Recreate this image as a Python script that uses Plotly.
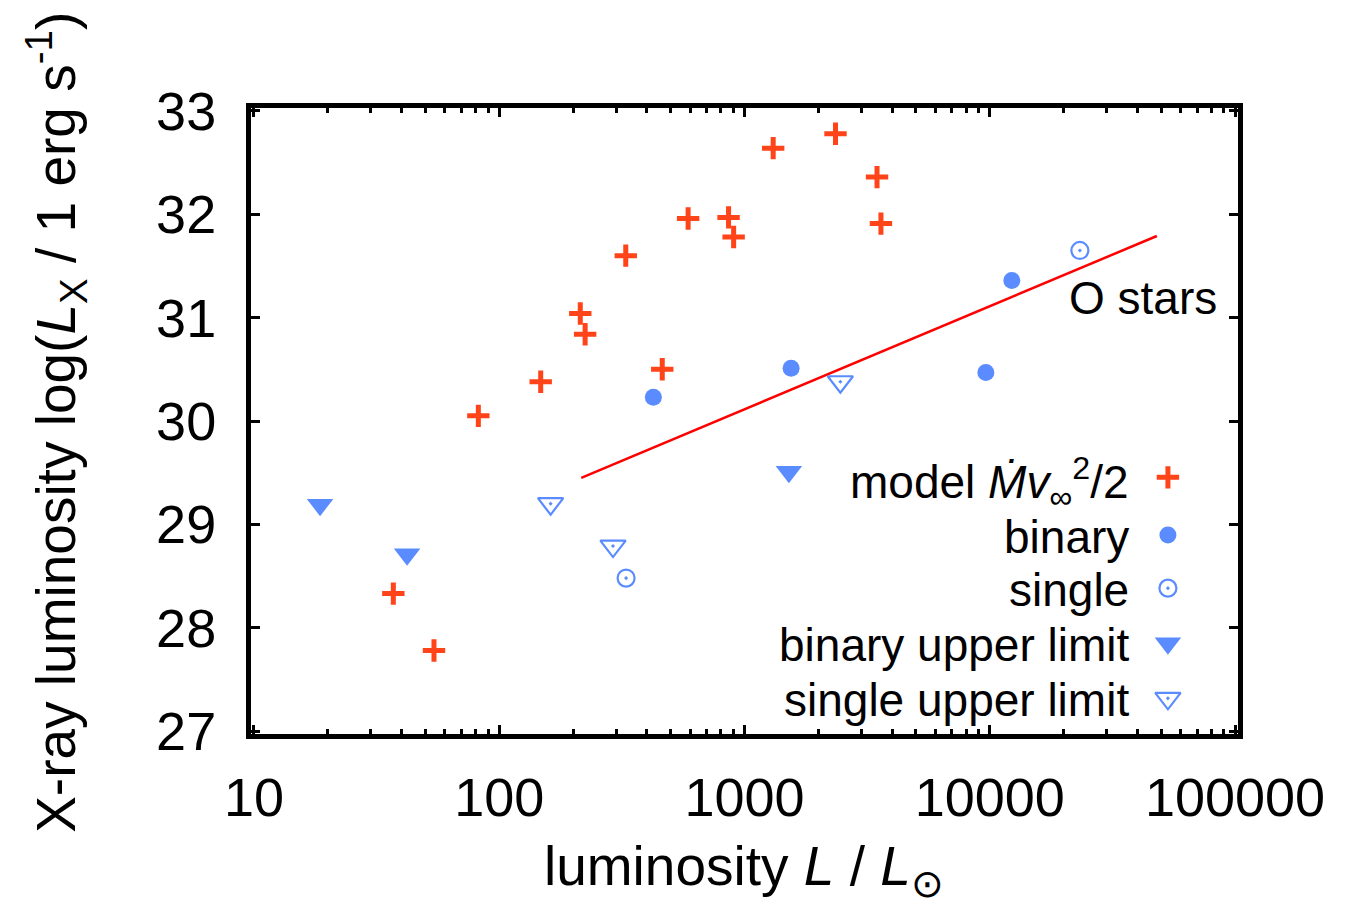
import plotly.graph_objects as go

# Mass-loss kinetic power from the wind model: L (L_sun) and log L_X
model_L = [37.0, 54.2, 82.2, 147.6, 214, 224, 328, 462, 589, 861, 903, 1309, 2350, 3470, 3600]
model_logLx = [28.33, 27.78, 30.05, 30.38, 31.04, 30.84, 31.60, 30.50, 31.96, 31.97, 31.78, 32.64, 32.78, 32.36, 31.91]

# Detected X-ray sources
binary_L = [425, 1549, 9640, 12300]
binary_logLx = [30.23, 30.51, 30.47, 31.36]
single_L = [329, 23300]
single_logLx = [28.48, 31.65]

# Upper limits
binary_ul_L = [18.6, 42.1, 1517]
binary_ul_logLx = [29.19, 28.71, 29.51]
single_ul_L = [162, 291, 2460]
single_ul_logLx = [29.20, 28.79, 30.38]

# Empirical relation for O stars
ostar_L = [216, 48000]
ostar_logLx = [29.45, 31.79]

x_ticks = [10, 100, 1000, 10000, 100000]
x_ticktext = ["10", "100", "1000", "10000", "100000"]
y_ticks = [27, 28, 29, 30, 31, 32, 33]

RED = "#ff4419"
BLUE = "#5a8cff"
FONT = "Liberation Sans, Arial, sans-serif"
FS_TICK = 54
FS_TITLE = 55
FS_KEY = 46

fig = go.Figure()

fig.add_trace(go.Scatter(x=ostar_L, y=ostar_logLx, mode="lines",
                         line=dict(color="#ff0000", width=2.5), showlegend=False))

fig.add_trace(go.Scatter(x=model_L, y=model_logLx, mode="markers",
                         marker=dict(symbol="cross-thin", size=16,
                                     line=dict(color=RED, width=5)),
                         showlegend=False))
fig.add_trace(go.Scatter(x=binary_L, y=binary_logLx, mode="markers",
                         marker=dict(symbol="circle", size=17, color=BLUE),
                         showlegend=False))
fig.add_trace(go.Scatter(x=single_L, y=single_logLx, mode="markers",
                         marker=dict(symbol="circle-open-dot", size=17,
                                     color=BLUE, line=dict(color=BLUE, width=2.2)),
                         showlegend=False))
fig.add_trace(go.Scatter(x=binary_ul_L, y=binary_ul_logLx, mode="markers",
                         marker=dict(symbol="triangle-down", size=23, color=BLUE),
                         showlegend=False))
fig.add_trace(go.Scatter(x=single_ul_L, y=single_ul_logLx, mode="markers",
                         marker=dict(symbol="triangle-down-open-dot", size=22,
                                     color=BLUE, line=dict(color=BLUE, width=2.2)),
                         showlegend=False))

# Key: labels right-aligned with their symbols to the right
key_labels = ["model <i>M\u0307v</i><sub>\u221e</sub><sup>2</sup>/2", "binary", "single",
              "binary upper limit", "single upper limit"]
key_text_rows = [0.402, 0.315, 0.230, 0.142, 0.054]
key_symbol_rows = [0.410, 0.318, 0.233, 0.145, 0.057]
key_symbols = [
    dict(symbol="cross-thin", size=16, line=dict(color=RED, width=5)),
    dict(symbol="circle", size=17, color=BLUE),
    dict(symbol="circle-open-dot", size=17, color=BLUE, line=dict(color=BLUE, width=2.2)),
    dict(symbol="triangle-down", size=23, color=BLUE),
    dict(symbol="triangle-down-open-dot", size=22, color=BLUE, line=dict(color=BLUE, width=2.2)),
]
key_x = 0.929
for lab, ty, sy, sym in zip(key_labels, key_text_rows, key_symbol_rows, key_symbols):
    fig.add_trace(go.Scatter(x=[key_x], y=[sy], mode="markers", marker=sym,
                             xaxis="x2", yaxis="y2", showlegend=False))
    fig.add_annotation(x=0.892, y=ty, xref="paper", yref="paper", text=lab,
                       showarrow=False, xanchor="right", yanchor="middle",
                       font=dict(family=FONT, size=FS_KEY, color="black"))

fig.add_annotation(x=0.981, y=0.696, xref="paper", yref="paper", text="O stars",
                   showarrow=False, xanchor="right", yanchor="middle",
                   font=dict(family=FONT, size=FS_KEY, color="black"))

# Axis titles
fig.add_annotation(x=0.4995, y=-0.2172, xref="paper", yref="paper",
                   text="luminosity <i>L</i> / <i>L</i><sub>\u2299</sub>",
                   showarrow=False, xanchor="center", yanchor="middle",
                   font=dict(family=FONT, size=FS_TITLE, color="black"))
fig.add_annotation(x=-0.197, y=0.498, xref="paper", yref="paper",
                   text="X-ray luminosity log(<i>L</i><sub>X</sub> / 1 erg s<sup>-1</sup>)",
                   showarrow=False, textangle=-90, xanchor="center", yanchor="middle",
                   font=dict(family=FONT, size=FS_TITLE, color="black"))

# Plot area spans pixels 251..1238 (x) and 108..734 (y); the frame sits half a line outside
px_per_dec = 993 / 4
x_pad = 3 / px_per_dec
px_per_unit = 632 / 6
y_pad = 3 / px_per_unit

axis_common = dict(showline=True, linewidth=5, linecolor="black", mirror="ticks",
                   ticks="inside", tickwidth=3, tickcolor="black", ticklen=9,
                   showgrid=False, zeroline=False,
                   tickfont=dict(family=FONT, size=FS_TICK, color="black"))

fig.update_layout(
    width=1347, height=911,
    margin=dict(l=251, r=109, t=108, b=177),
    paper_bgcolor="white", plot_bgcolor="white",
    showlegend=False,
    xaxis=dict(type="log", range=[1 - x_pad, 5 + x_pad],
               tickmode="array", tickvals=x_ticks, ticktext=x_ticktext,
               ticklabelstandoff=12,
               minor=dict(ticks="inside", ticklen=5, tickwidth=3, tickcolor="black",
                          dtick="D1", showgrid=False),
               **axis_common),
    yaxis=dict(range=[27 - y_pad, 33 + y_pad], tickmode="array", tickvals=y_ticks,
               ticklabelstandoff=19, **axis_common),
    xaxis2=dict(overlaying="x", range=[0, 1], visible=False, anchor="y2"),
    yaxis2=dict(overlaying="y", range=[0, 1], visible=False, anchor="x2"),
)

fig.write_html("out.html")
